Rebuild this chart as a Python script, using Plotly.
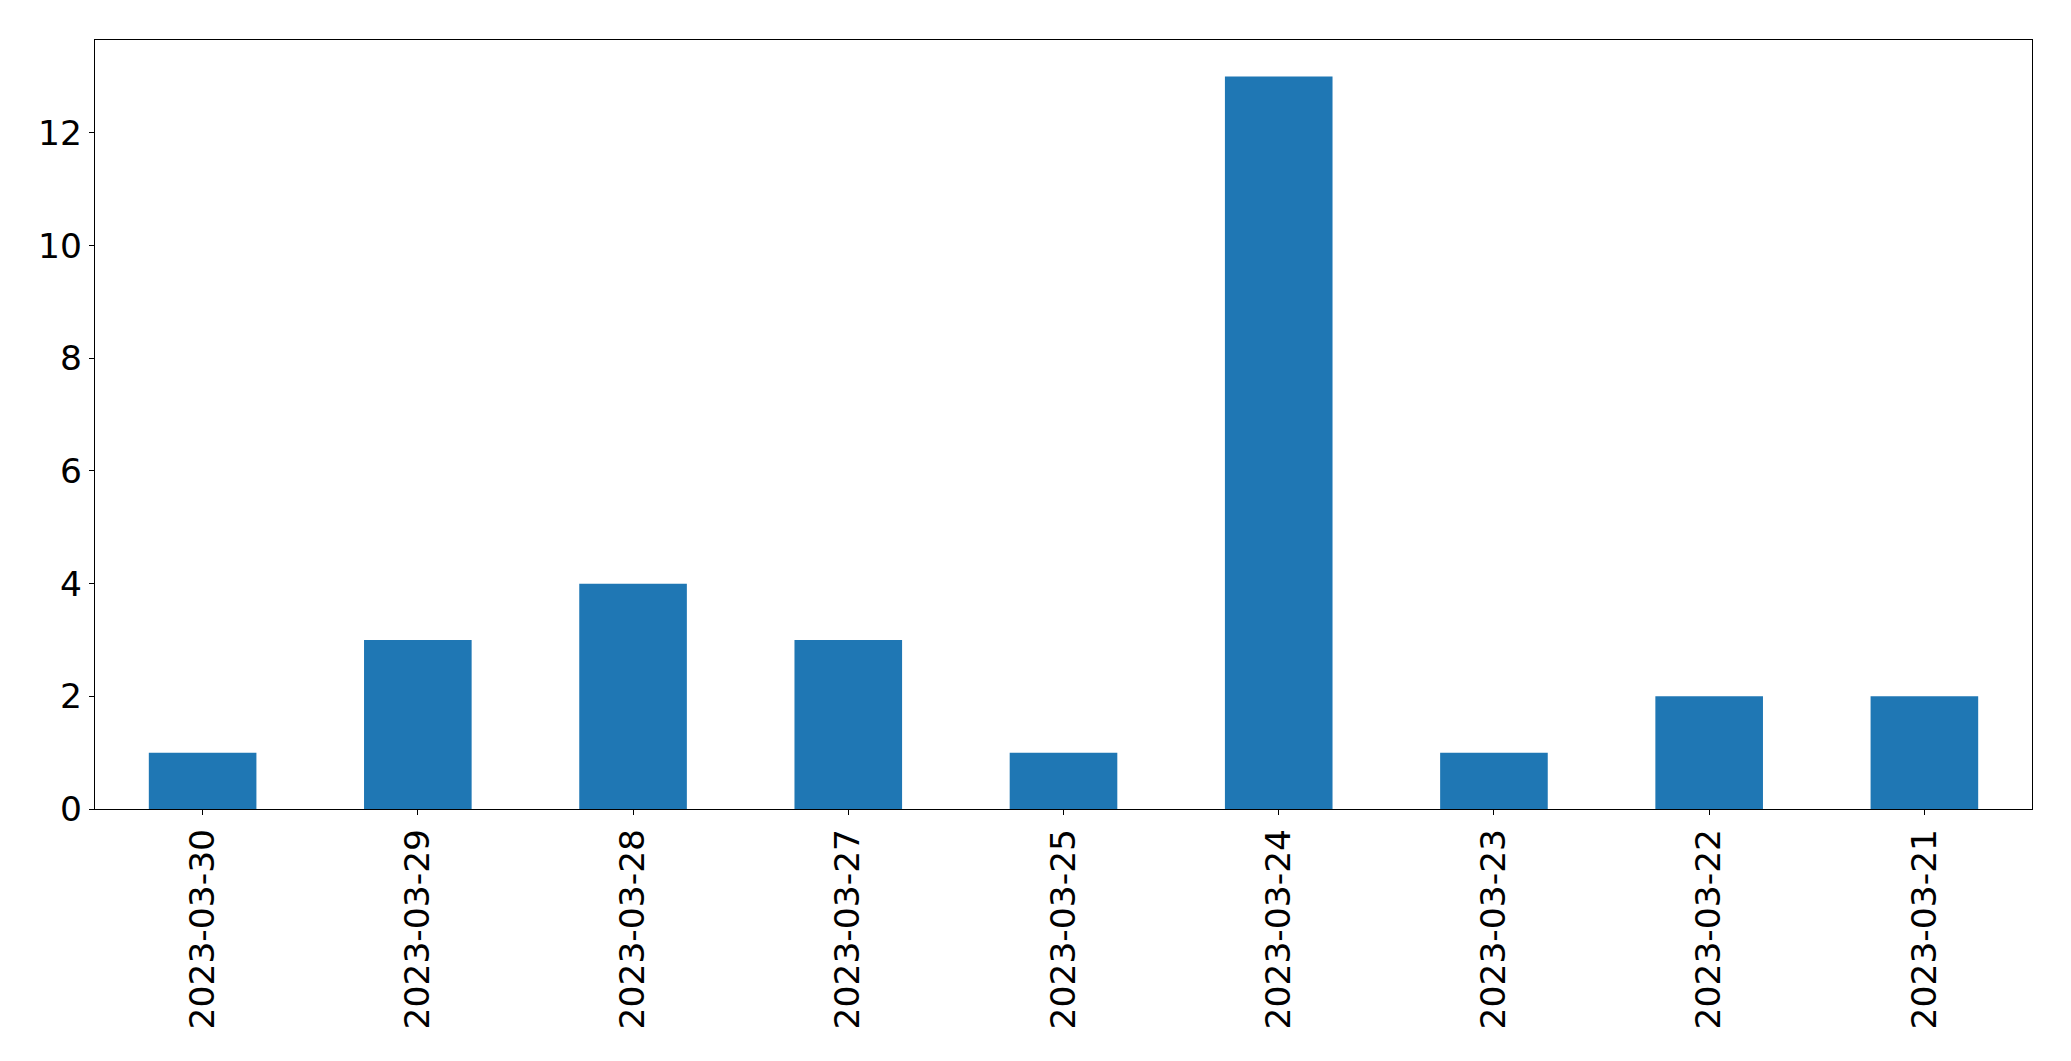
import plotly.graph_objects as go

dates = ["2023-03-30", "2023-03-29", "2023-03-28", "2023-03-27", "2023-03-25",
         "2023-03-24", "2023-03-23", "2023-03-22", "2023-03-21"]
counts = [1, 3, 4, 3, 1, 13, 1, 2, 2]
y_ticks = [0, 2, 4, 6, 8, 10, 12]

W, H = 2071, 1061
OFF = 8  # default page body margin
fig = go.Figure(go.Bar(x=dates, y=counts, marker=dict(color="#1f77b4", line=dict(width=0)), width=0.5))

fig.update_layout(
    width=W - OFF, height=H - OFF,
    margin=dict(l=94.5 - OFF, r=W - 2032.5, t=39.5 - OFF, b=H - 809),
    paper_bgcolor="white", plot_bgcolor="white",
    font=dict(family="DejaVu Sans", size=34.5, color="black"),
    showlegend=False,
)
fig.update_xaxes(
    type="category", range=[-0.5, len(dates) - 0.5],
    tickangle=-90, ticks="outside", ticklen=5, tickwidth=1, tickcolor="black",
    showline=True, linecolor="black", linewidth=1.3, mirror=True,
    showgrid=False, zeroline=False,
)
fig.update_yaxes(
    range=[0, 13.65], tickvals=y_ticks,
    ticks="outside", ticklen=5, tickwidth=1, tickcolor="black",
    showline=True, linecolor="black", linewidth=1.3, mirror=True,
    showgrid=False, zeroline=False,
)
fig.write_html("out.html")
